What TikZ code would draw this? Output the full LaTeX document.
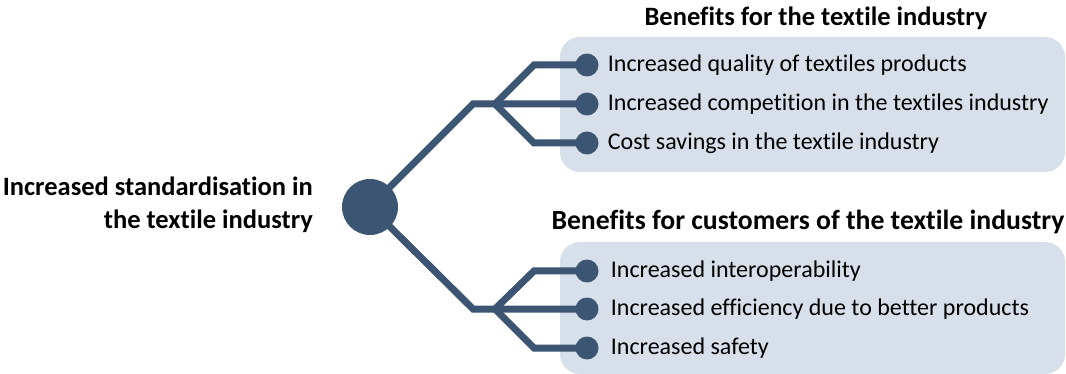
\documentclass[tikz,border=0pt]{standalone}
\usepackage{fontspec}
\setmainfont{Carlito}[Ligatures=NoCommon]
\usetikzlibrary{positioning}
\definecolor{branchblue}{HTML}{3B5573}
\definecolor{panelblue}{HTML}{D6DFEA}

\begin{document}
\begin{tikzpicture}[
  x=1pt, y=-1pt,
  node distance = 0pt and 9pt,
  hub node/.style={
    circle,
    fill=branchblue,
    minimum size=56pt,
    inner sep=0pt,
  },
  dot node/.style={
    circle,
    fill=branchblue,
    minimum size=23pt,
    inner sep=0pt,
  },
  item node/.style={
    inner sep=0pt,
    font=\fontsize{24}{28}\selectfont,
  },
  head node/.style={
    inner sep=0pt,
    font=\fontsize{26.5}{33}\selectfont\bfseries,
  },
  panel/.style={
    fill=panelblue,
    rounded corners=20pt,
  },
  branch/.style={
    draw=branchblue,
    line width=7pt,
  },
  ]
  \useasboundingbox (0,0) rectangle (1066,374);

  \path[panel] (560,37) rectangle (1065,172);
  \path[panel] (560,242) rectangle (1065,374);

  \node[head node] (industry-head) at (816,18) {Benefits for the textile industry};
  \node[head node,font=\fontsize{27.7}{33}\selectfont\bfseries] (customer-head) at (808,222)
  {Benefits for customers of the textile industry};
  \node[head node,align=right,anchor=east] (cause) at (313,205)
  {Increased standardisation in\\the textile industry};

  \node[hub node] (hub) at (370,207) {};

  % top fork
  \coordinate (industry-knee) at (473,104);
  \coordinate (industry-fork) at (495,104);
  \coordinate (industry-up) at (534,65);
  \coordinate (industry-down) at (534,143);
  \node[dot node] (industry-1) at (587,65) {};
  \node[dot node] (industry-2) at (587,104) {};
  \node[dot node] (industry-3) at (587,143) {};

  % bottom fork
  \coordinate (customer-knee) at (473,309);
  \coordinate (customer-fork) at (495,309);
  \coordinate (customer-up) at (534,271);
  \coordinate (customer-down) at (534,348);
  \node[dot node] (customer-1) at (587,271) {};
  \node[dot node] (customer-2) at (587,309) {};
  \node[dot node] (customer-3) at (587,348) {};

  \node[item node,right=of industry-1] {Increased quality of textiles products};
  \node[item node,right=of industry-2] {Increased competition in the textiles industry};
  \node[item node,right=of industry-3] {Cost savings in the textile industry};
  \node[item node,right=12pt of customer-1] {Increased interoperability};
  \node[item node,right=12pt of customer-2] {Increased efficiency due to better products};
  \node[item node,right=12pt of customer-3] {Increased safety};

  \draw[branch] (hub.center) -- (industry-knee) -- (industry-fork) -- (industry-2.center);
  \draw[branch] (industry-fork) -- (industry-up) -- (industry-1.center);
  \draw[branch] (industry-fork) -- (industry-down) -- (industry-3.center);
  \draw[branch] (hub.center) -- (customer-knee) -- (customer-fork) -- (customer-2.center);
  \draw[branch] (customer-fork) -- (customer-up) -- (customer-1.center);
  \draw[branch] (customer-fork) -- (customer-down) -- (customer-3.center);
\end{tikzpicture}
\end{document}
